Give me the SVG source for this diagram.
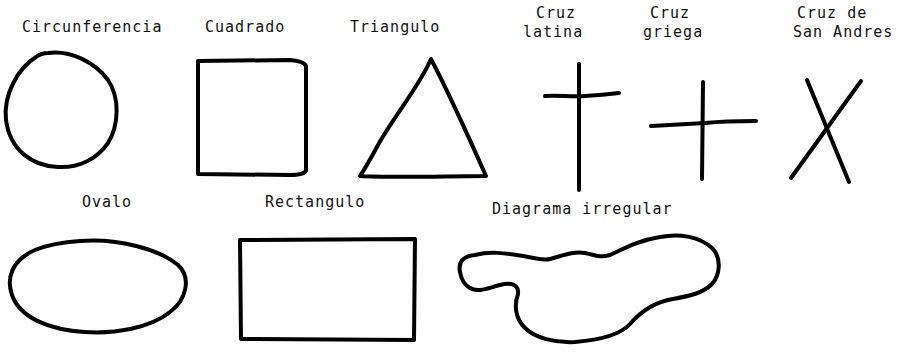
<svg xmlns="http://www.w3.org/2000/svg" width="902" height="352" viewBox="0 0 902 352">
<style>
.lbl{font-family:"DejaVu Sans Mono","Liberation Mono",monospace;font-size:15px;letter-spacing:1px;fill:#111}
.sh{fill:none;stroke:#000;stroke-width:4;stroke-linecap:round;stroke-linejoin:round}
</style>
<rect width="902" height="352" fill="#fff"/>
<g id="circunferencia">
<path class="sh" d="M48,53 C70,50 95,62 108,80 C120,98 119,125 108,143 C96,160 78,168 58,167 C32,166 10,150 6,120 C3,95 18,68 36,57 C40,54 44,53 48,53 Z"/>
<text class="lbl" x="22" y="32">Circunferencia</text>
</g>
<g id="cuadrado">
<path class="sh" d="M198,61 L290,60 C300,61 305,63 306,66 L306,170 C306,173 300,175 290,175 L198,174 Z"/>
<text class="lbl" x="205" y="32">Cuadrado</text>
</g>
<g id="triangulo">
<path class="sh" d="M431,59 C420,85 395,115 378,145 C370,160 364,170 360,176 C390,178 450,176 486,176 C470,140 450,95 431,59 Z"/>
<text class="lbl" x="350" y="32">Triangulo</text>
</g>
<g id="cruz-latina">
<path class="sh" d="M579,64 L579,190"/>
<path class="sh" d="M545,96 C560,95 570,97 585,96 C600,95 610,94 619,93"/>
<text class="lbl" x="536" y="18">Cruz</text>
<text class="lbl" x="523" y="37">latina</text>
</g>
<g id="cruz-griega">
<path class="sh" d="M703,82 L702,179"/>
<path class="sh" d="M651,126 C670,125 690,124 705,123 C725,121 740,121 756,121" stroke-width="5"/>
<text class="lbl" x="650" y="18">Cruz</text>
<text class="lbl" x="643" y="37">griega</text>
</g>
<g id="cruz-san-andres">
<path class="sh" d="M807,80 L849,182"/>
<path class="sh" d="M861,81 L791,178"/>
<text class="lbl" x="797" y="18">Cruz de</text>
<text class="lbl" x="793" y="37">San Andres</text>
</g>
<g id="ovalo">
<path class="sh" d="M80,241 C120,238 160,250 178,265 C192,278 186,300 170,312 C150,328 115,334 85,332 C50,330 20,318 12,295 C6,278 12,260 35,250 C50,244 65,242 80,241 Z"/>
<text class="lbl" x="82" y="207">Ovalo</text>
</g>
<g id="rectangulo">
<path class="sh" d="M240,240 L415,239 L414,340 L241,339 Z"/>
<text class="lbl" x="265" y="207">Rectangulo</text>
</g>
<g id="diagrama-irregular">
<path class="sh" d="M460,272 C458,262 463,256 475,255 C490,251 505,253 523,256 C535,258 542,261 550,259 C562,256 572,251 585,253 C595,255 600,258 610,255 C625,248 640,240 660,237 C680,233 700,237 712,248 C722,258 720,275 712,284 C703,293 690,296 673,299 C655,302 642,310 630,324 C620,335 600,340 575,342 C555,343 535,338 525,328 C515,318 514,305 518,294 C519,285 512,282 500,285 C488,288 478,293 470,288 C463,284 461,278 460,272 Z"/>
<text class="lbl" x="492" y="214">Diagrama irregular</text>
</g>
</svg>
